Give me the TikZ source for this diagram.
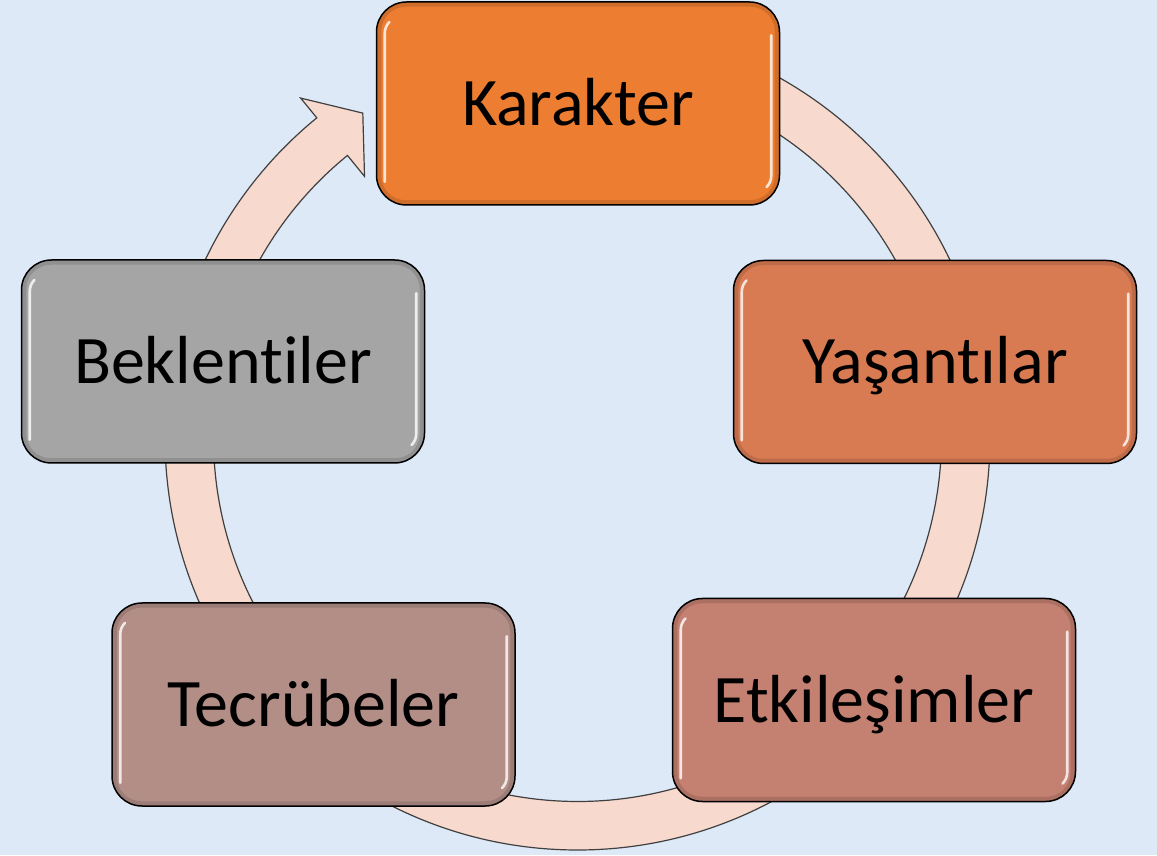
\documentclass[tikz,border=0pt]{standalone}
\usepackage{fontspec}
\setmainfont{Carlito}[Ligatures=NoCommon]
\definecolor{bgc}{HTML}{DDE9F6}
\definecolor{ringfill}{HTML}{F8D9CE}
\definecolor{ringline}{HTML}{404040}
\definecolor{cK}{HTML}{ED7D31}
\definecolor{cY}{HTML}{D87A52}
\definecolor{cE}{HTML}{C48070}
\definecolor{cT}{HTML}{B28E87}
\definecolor{cB}{HTML}{A5A5A5}
\tikzset{
  boxnode/.style={draw=black, line width=1.5pt, rounded corners=30pt,
    minimum width=403pt, minimum height=203pt, inner sep=0pt,
    font=\fontsize{68}{80}\selectfont, text height=44pt, text depth=0pt},
  ringstyle/.style={fill=ringfill, draw=ringline, line width=1.2pt, line join=miter},
  gloss/.style={draw=white, line width=2.6pt, line cap=round, opacity=0.8},
  rim/.style={draw=black, draw opacity=0.12, line width=5pt, rounded corners=27pt},
}
\newcommand{\glossbox}[1]{%
  \draw[rim] ([shift={(3pt,3pt)}]#1.south west) rectangle ([shift={(-3pt,-3pt)}]#1.north east);
  \draw[gloss] ([shift={(9pt,24pt)}]#1.south west) -- ([shift={(9pt,-32pt)}]#1.north west)
     arc[start angle=180, end angle=135, radius=16pt];
  \draw[gloss] ([shift={(-9pt,-34pt)}]#1.north east) -- ([shift={(-9pt,30pt)}]#1.south east)
     arc[start angle=0, end angle=-45, radius=16pt];
}
\begin{document}
\begin{tikzpicture}[x=1pt,y=1pt]
\useasboundingbox (0,0) rectangle (1157,855);
\fill[bgc] (0,0) rectangle (1157,855);
\coordinate (C) at (577.5,417.5);
\begin{scope}[shift={(C)}]
  \draw[ringstyle] (90:412.5) arc[start angle=90, end angle=-230.8, radius=412.5]
    -- (-230.8:438) -- (-236.5:389) -- (-230.8:337) -- (-230.8:364)
    arc[start angle=-230.8, end angle=90, radius=364] -- cycle;
\end{scope}
\node[boxnode, fill=cK] (k) at (578,751.5) {Karakter};
\node[boxnode, fill=cY] (y) at (935,493) {Yaşantılar};
\node[boxnode, fill=cE] (e) at (874,155) {Etkileşimler};
\node[boxnode, fill=cT] (t) at (313.5,150.5) {Tecrübeler};
\node[boxnode, fill=cB] (b) at (223,493.5) {Beklentiler};
\glossbox{k}\glossbox{y}\glossbox{e}\glossbox{t}\glossbox{b}
\end{tikzpicture}
\end{document}
